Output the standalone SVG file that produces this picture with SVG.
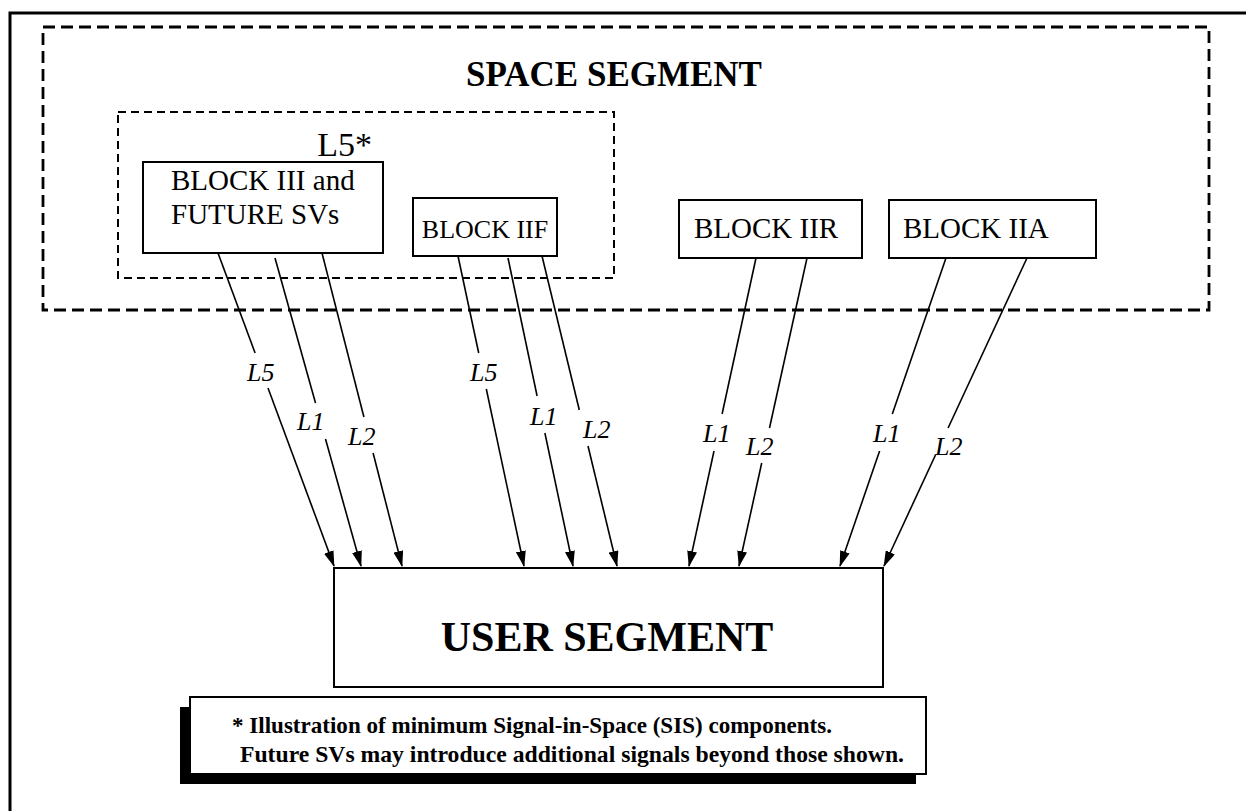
<svg xmlns="http://www.w3.org/2000/svg" width="1246" height="811" viewBox="0 0 1246 811">
<defs>
<style>
.box{fill:#fff;stroke:#000;stroke-width:2}
.t{font-family:"Liberation Serif","Times New Roman",serif;fill:#000}
.lbl{font-family:"Liberation Serif","Times New Roman",serif;font-style:italic;font-size:26px;fill:#000}
.c{stroke:#000;stroke-width:1.6;fill:none}
</style>
<marker id="ah" markerWidth="16" markerHeight="10" refX="15" refY="5" orient="auto" markerUnits="userSpaceOnUse">
<path d="M0,0 L16,5 L0,10 Z" fill="#000"/>
</marker>
</defs>
<rect x="0" y="0" width="1246" height="811" fill="#fff"/>
<g id="frame">
<path d="M10,811 V13 H1246" fill="none" stroke="#000" stroke-width="3"/>
</g>
<g id="space-segment">
<rect x="43" y="27" width="1166" height="283" fill="none" stroke="#000" stroke-width="2.8" stroke-dasharray="12 6"/>
<text class="t" x="614" y="86" font-size="35" font-weight="bold" text-anchor="middle">SPACE SEGMENT</text>
</g>
<g id="l5-group">
<rect x="118" y="112" width="496" height="166" fill="none" stroke="#000" stroke-width="2" stroke-dasharray="8 5"/>
<text class="t" x="372" y="156" font-size="34" text-anchor="end">L5*</text>
</g>
<g id="block-iii">
<rect class="box" x="143" y="162" width="240" height="91"/>
<text class="t" x="171" y="190" font-size="29">BLOCK III and</text>
<text class="t" x="171" y="224" font-size="29">FUTURE SVs</text>
</g>
<g id="block-iif">
<rect class="box" x="413" y="198" width="144" height="58"/>
<text class="t" x="485" y="238" font-size="26" text-anchor="middle">BLOCK IIF</text>
</g>
<g id="block-iir">
<rect class="box" x="679" y="200" width="183" height="58"/>
<text class="t" x="694" y="238" font-size="29">BLOCK IIR</text>
</g>
<g id="block-iia">
<rect class="box" x="889" y="200" width="207" height="58"/>
<text class="t" x="903" y="238" font-size="29">BLOCK IIA</text>
</g>
<g id="user-segment">
<rect class="box" x="334" y="568" width="549" height="119"/>
<text class="t" x="607" y="651" font-size="42" font-weight="bold" text-anchor="middle">USER SEGMENT</text>
</g>
<g id="note">
<rect x="180" y="707" width="736" height="77" fill="#000"/>
<rect class="box" x="190" y="697" width="736" height="77"/>
<text class="t" x="232" y="733" font-size="23.5" font-weight="bold" textLength="600" lengthAdjust="spacingAndGlyphs">* Illustration of minimum Signal-in-Space (SIS) components.</text>
<text class="t" x="240" y="762" font-size="23.5" font-weight="bold" textLength="664" lengthAdjust="spacingAndGlyphs">Future SVs may introduce additional signals beyond those shown.</text>
</g>
<g id="connectors">
<line class="c" x1="218" y1="253" x2="255.1" y2="353"/>
<line class="c" x1="268" y1="388" x2="334" y2="566" marker-end="url(#ah)"/>
<line class="c" x1="275" y1="258" x2="315.5" y2="403"/>
<line class="c" x1="325.5" y1="439" x2="361" y2="566" marker-end="url(#ah)"/>
<line class="c" x1="322" y1="253" x2="363.9" y2="417"/>
<line class="c" x1="373.1" y1="453" x2="402" y2="566" marker-end="url(#ah)"/>
<line class="c" x1="458" y1="256" x2="478.7" y2="353"/>
<line class="c" x1="486.3" y1="389" x2="524" y2="566" marker-end="url(#ah)"/>
<line class="c" x1="508" y1="258" x2="537.1" y2="396"/>
<line class="c" x1="544.9" y1="433" x2="573" y2="566" marker-end="url(#ah)"/>
<line class="c" x1="542" y1="256" x2="579.3" y2="410"/>
<line class="c" x1="588" y1="446" x2="617" y2="566" marker-end="url(#ah)"/>
<line class="c" x1="756" y1="258" x2="722.1" y2="414"/>
<line class="c" x1="714" y1="451" x2="689" y2="566" marker-end="url(#ah)"/>
<line class="c" x1="807" y1="258" x2="769.5" y2="428"/>
<line class="c" x1="761.7" y1="463" x2="739" y2="566" marker-end="url(#ah)"/>
<line class="c" x1="946" y1="258" x2="892.3" y2="414"/>
<line class="c" x1="879.6" y1="451" x2="840" y2="566" marker-end="url(#ah)"/>
<line class="c" x1="1027" y1="258" x2="948.1" y2="428"/>
<line class="c" x1="935.5" y1="455" x2="884" y2="566" marker-end="url(#ah)"/>
<text class="lbl" x="247" y="381">L5</text>
<text class="lbl" x="297" y="430">L1</text>
<text class="lbl" x="348" y="445">L2</text>
<text class="lbl" x="470" y="381">L5</text>
<text class="lbl" x="530" y="425">L1</text>
<text class="lbl" x="583" y="438">L2</text>
<text class="lbl" x="703" y="442">L1</text>
<text class="lbl" x="746" y="455">L2</text>
<text class="lbl" x="873" y="442">L1</text>
<text class="lbl" x="935" y="455">L2</text>
</g>
</svg>
